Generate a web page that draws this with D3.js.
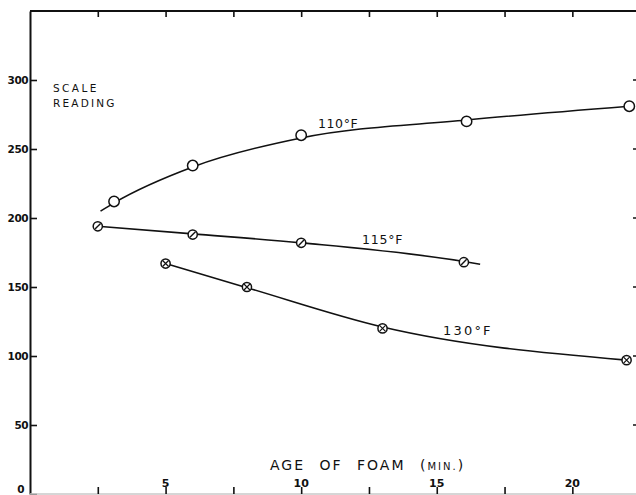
<!DOCTYPE html>
<html><head><meta charset="utf-8">
<script src="https://cdn.jsdelivr.net/npm/d3@7"></script>
<style>
html,body{margin:0;padding:0;background:#fff;}
svg{display:block;}
text{font-family:"DejaVu Sans",sans-serif;fill:#111;}
</style></head>
<body>
<script>
// ---- data ----
const yTicks = [0, 50, 100, 150, 200, 250, 300];
const xMinorTicks = [2.5, 5, 7.5, 10, 12.5, 15, 17.5, 20];
const xTickLabels = [5, 10, 15, 20];

const s110x = [3.1, 6.0, 10.0, 16.1, 22.1];
const s110y = [212, 238, 260, 270, 281];
const s115x = [2.5, 6.0, 10.0, 16.0];
const s115y = [194, 188, 182, 168];
const s130x = [5.0, 8.0, 13.0, 22.0];
const s130y = [167, 150, 120, 97];

// smooth fitted curves (drawn through / beyond the points)
const c110x = [2.6, 3.1, 6.0, 10.0, 16.1, 22.1];
const c110y = [205, 211, 237, 258, 271, 281];
const c115x = [2.5, 6.0, 10.0, 16.0, 16.6];
const c115y = [194, 188.5, 182, 168.5, 166.5];
const c130x = [5.0, 8.0, 13.0, 22.0];
const c130y = [167, 149.5, 121, 97];

const W = 636, H = 495;
const svg = d3.select("body").append("svg").attr("width", W).attr("height", H);

const x = d3.scaleLinear().domain([0, 22.2]).range([30, 632]);
const y = d3.scaleLinear().domain([0, 350]).range([494, 11]);

// left axis
const gL = svg.append("g").attr("transform", "translate(30,0)")
  .call(d3.axisLeft(y).tickValues(yTicks).tickSizeInner(-7).tickSizeOuter(0).tickPadding(2));
gL.select(".domain").attr("stroke", "#111").attr("stroke-width", 2);
gL.selectAll(".tick line").attr("stroke", "#111").attr("stroke-width", 1.6);
gL.selectAll(".tick text").attr("font-size", 10.5).attr("font-weight", "bold").attr("fill", "#111")
  .attr("letter-spacing", -0.5);
gL.selectAll(".tick").filter(d => d === 0).select("text").attr("x", -6).attr("dy", "-0.1em");

// top axis
const gT = svg.append("g").attr("transform", "translate(0,11)")
  .call(d3.axisTop(x).tickValues(xMinorTicks).tickSizeInner(-6).tickSizeOuter(0).tickFormat(""));
gT.select(".domain").attr("stroke", "#111").attr("stroke-width", 2).attr("d", `M30,0H${W}`);
gT.selectAll(".tick line").attr("stroke", "#111").attr("stroke-width", 1.6);

// bottom axis (faint line, ticks upward, labels above)
const gB = svg.append("g").attr("transform", "translate(0,494)")
  .call(d3.axisBottom(x).tickValues(xMinorTicks).tickSizeInner(-7).tickSizeOuter(0).tickFormat(""));
gB.select(".domain").attr("stroke", "#c8c8c8").attr("stroke-width", 1.5).attr("d", `M30,0H${W}`);
gB.selectAll(".tick line").attr("stroke", "#111").attr("stroke-width", 1.6);
svg.append("g").selectAll("text").data(xTickLabels).join("text")
  .attr("x", d => x(d)).attr("y", 487).attr("text-anchor", "middle")
  .attr("font-size", 11).attr("font-weight", "bold").text(d => d);

// right-edge tick fragments
svg.append("g").selectAll("line").data(yTicks.filter(d => d > 0)).join("line")
  .attr("x1", 633).attr("x2", 636).attr("y1", d => y(d)).attr("y2", d => y(d))
  .attr("stroke", "#111").attr("stroke-width", 1.5);

// curves
const line = d3.line().x(d => x(d[0])).y(d => y(d[1])).curve(d3.curveMonotoneX);
const curves = [[c110x, c110y], [c115x, c115y], [c130x, c130y]];
svg.append("g").selectAll("path").data(curves).join("path")
  .attr("d", c => line(c[0].map((v, i) => [v, c[1][i]])))
  .attr("fill", "none").attr("stroke", "#111").attr("stroke-width", 1.6);

// markers
const zip = (a, b) => a.map((v, i) => [v, b[i]]);
const g110 = svg.append("g").selectAll("g").data(zip(s110x, s110y)).join("g")
  .attr("transform", d => `translate(${x(d[0])},${y(d[1])})`);
g110.append("circle").attr("r", 5.2).attr("fill", "#fff").attr("stroke", "#111").attr("stroke-width", 1.5);

const g115 = svg.append("g").selectAll("g").data(zip(s115x, s115y)).join("g")
  .attr("transform", d => `translate(${x(d[0])},${y(d[1])})`);
g115.append("circle").attr("r", 4.6).attr("fill", "#fff").attr("stroke", "#111").attr("stroke-width", 1.5);
g115.append("line").attr("x1", -2.8).attr("y1", 2.8).attr("x2", 2.8).attr("y2", -2.8)
  .attr("stroke", "#111").attr("stroke-width", 1.4);

const g130 = svg.append("g").selectAll("g").data(zip(s130x, s130y)).join("g")
  .attr("transform", d => `translate(${x(d[0])},${y(d[1])})`);
g130.append("circle").attr("r", 4.6).attr("fill", "#fff").attr("stroke", "#111").attr("stroke-width", 1.5);
g130.append("path").attr("d", "M-3,-3L3,3M-3,3L3,-3").attr("stroke", "#111").attr("stroke-width", 1.2);

// labels
const lab = (t, px, py, fs, ls) => svg.append("text").attr("x", px).attr("y", py)
  .attr("font-size", fs).attr("letter-spacing", ls || 0).text(t);
lab("SCALE", 53, 92, 10.5, 2.4);
lab("READING", 53, 107, 10.5, 2.2);
lab("110°F", 318, 128, 12.5, 0.6);
lab("115°F", 362, 244, 12.5, 0.8);
lab("130°F", 443, 335, 13, 2.2);
const ax = svg.append("text").attr("x", 270).attr("y", 470).attr("font-size", 14)
  .attr("letter-spacing", 2).attr("word-spacing", 8);
ax.append("tspan").text("AGE OF FOAM (");
ax.append("tspan").attr("font-size", 10).text("MIN.");
ax.append("tspan").text(")");
</script>
</body></html>
